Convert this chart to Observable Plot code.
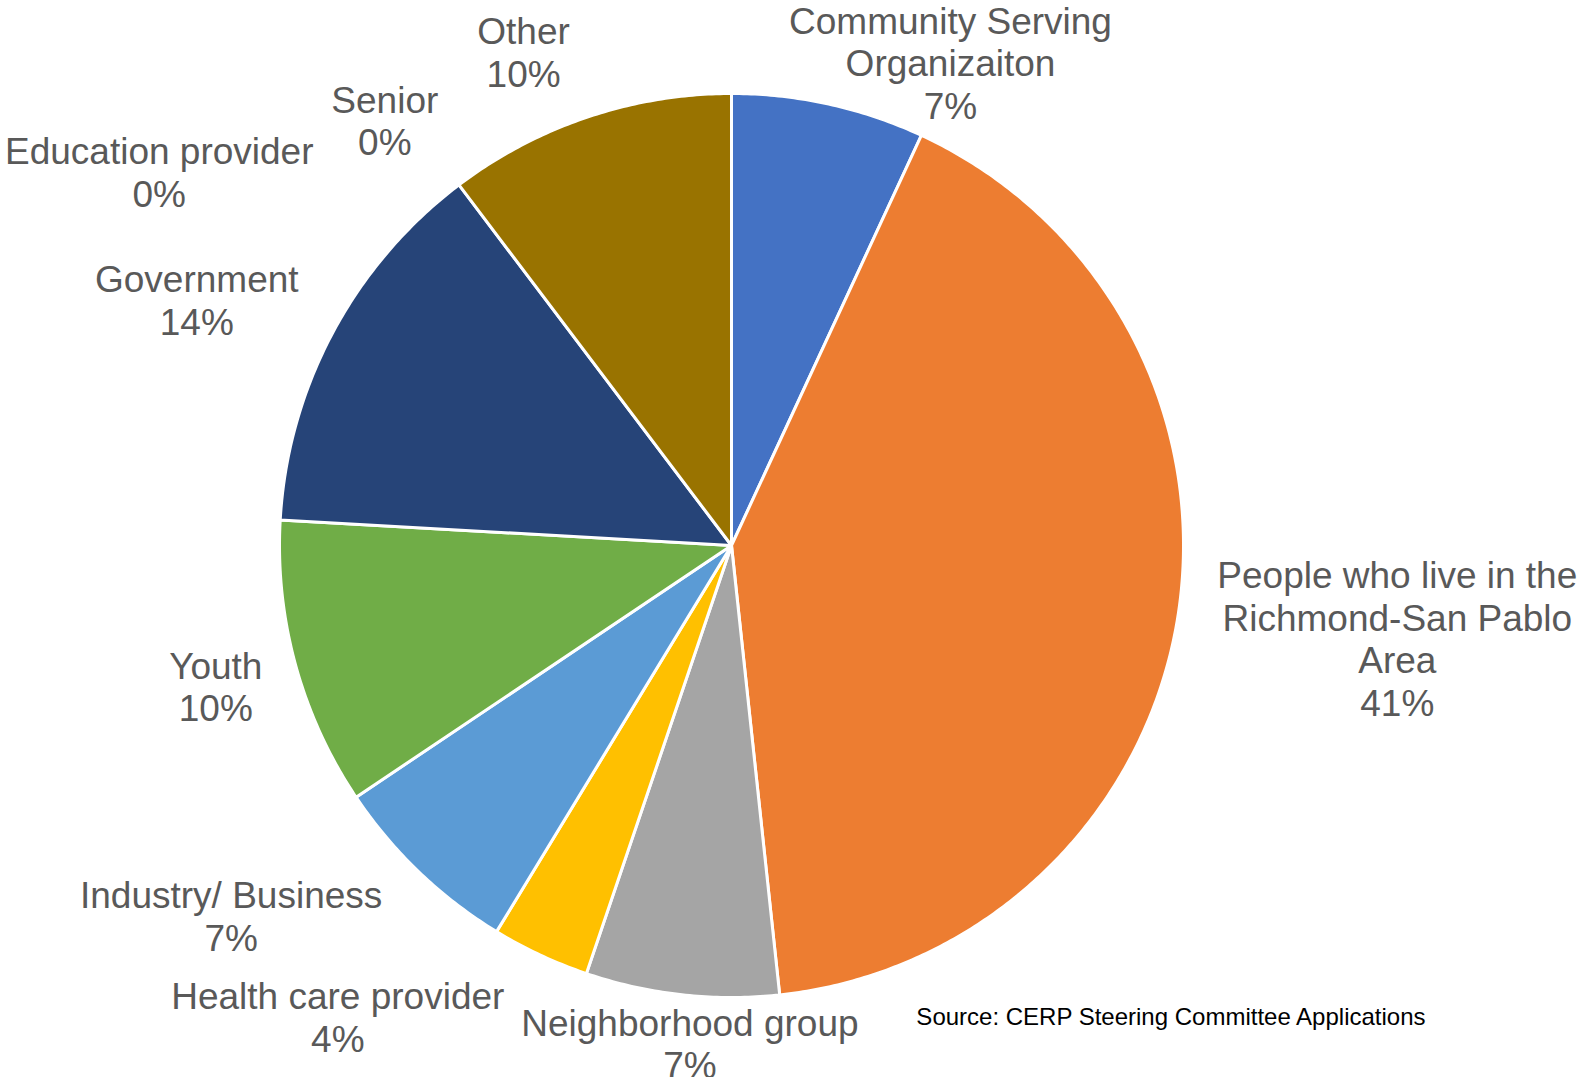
<!DOCTYPE html>
<html>
<head>
<meta charset="utf-8">
<script src="https://cdn.jsdelivr.net/npm/d3@7"></script>
<script src="https://cdn.jsdelivr.net/npm/@observablehq/plot@0.6"></script>
<style>
  html, body { margin: 0; padding: 0; background: #ffffff; }
  #chart svg { display: block; }
</style>
</head>
<body>
<div id="chart"></div>
<script>
// ---- Data ----
const categories = [
  "Community Serving\nOrganizaiton",
  "People who live in the\nRichmond-San Pablo\nArea",
  "Neighborhood group",
  "Health care provider",
  "Industry/ Business",
  "Youth",
  "Government",
  "Education provider",
  "Senior",
  "Other"
];
const values = [6.9, 41.4, 6.9, 3.5, 6.9, 10.3, 13.8, 0, 0, 10.3];
const percentLabels = ["7%", "41%", "7%", "4%", "7%", "10%", "14%", "0%", "0%", "10%"];
const colors = ["#4472C4", "#ED7D31", "#A5A5A5", "#FFC000", "#5B9BD5", "#70AD47", "#264478", "#9E480E", "#636363", "#997300"];
const sourceNote = "Source: CERP Steering Committee Applications";

// ---- Layout (label anchors in pie-radius units, centre = 0,0) ----
const labelAnchors = [
  [0.4845, 1.068], [1.473, -0.205], [-0.092, -1.102], [-0.871, -1.043], [-1.107, -0.820],
  [-1.141, -0.312], [-1.183, 0.543], [-1.266, 0.827], [-0.767, 0.941], [-0.460, 1.092]
];
const sourceAnchor = [0.409, -1.043];

// ---- Build slices with d3.pie ----
const arcs = d3.pie().sort(null).value((d) => d.value)(
  categories.map((c, i) => ({category: c, value: values[i]}))
);
const slicePoints = [];
for (const a of arcs) {
  if (a.endAngle - a.startAngle <= 0) continue;
  const cat = a.data.category;
  slicePoints.push({category: cat, x: 0, y: 0});
  const n = Math.max(2, Math.ceil((a.endAngle - a.startAngle) / (Math.PI / 360)));
  for (let k = 0; k <= n; k++) {
    const t = a.startAngle + (a.endAngle - a.startAngle) * k / n;
    slicePoints.push({category: cat, x: Math.sin(t), y: Math.cos(t)});
  }
}
const labels = categories.map((c, i) => ({
  text: c + "\n" + percentLabels[i],
  x: labelAnchors[i][0],
  y: labelAnchors[i][1]
}));

const W = 1578, H = 1077, R = 452, CX = 731, CY = 545;
const chart = Plot.plot({
  width: W,
  height: H,
  margin: 0,
  style: {fontFamily: "'Liberation Sans', Arial, sans-serif", background: "#ffffff"},
  x: {domain: [-CX / R, (W - CX) / R], axis: null},
  y: {domain: [-(H - CY) / R, CY / R], axis: null},
  color: {domain: categories, range: colors},
  marks: [
    Plot.line(slicePoints, {
      x: "x", y: "y", z: "category", fill: "category",
      stroke: "white", strokeWidth: 3, strokeLinejoin: "round", curve: "linear-closed"
    }),
    Plot.text(labels, {
      x: "x", y: "y", text: "text", fill: "#595959",
      fontSize: 37, lineHeight: 1.15, textAnchor: "middle", lineAnchor: "middle"
    }),
    Plot.text([sourceNote], {
      x: () => sourceAnchor[0], y: () => sourceAnchor[1], text: (d) => d,
      fill: "#000000", fontSize: 24, textAnchor: "start", lineAnchor: "middle"
    })
  ]
});
document.getElementById("chart").appendChild(chart);
</script>
</body>
</html>
